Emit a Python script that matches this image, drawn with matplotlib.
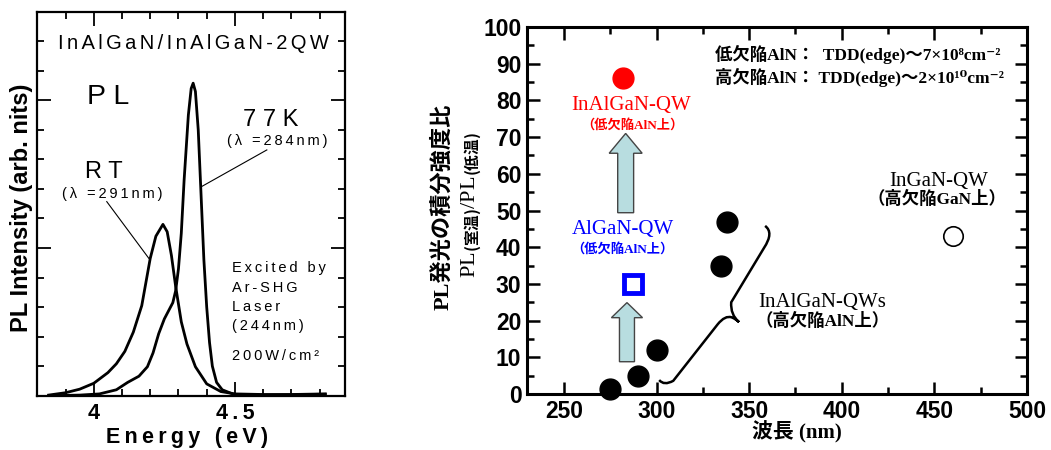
import matplotlib
matplotlib.use('Agg')
import matplotlib.pyplot as plt
from matplotlib.path import Path
from matplotlib.patches import PathPatch, FancyArrow
from matplotlib.ticker import MultipleLocator, FixedLocator, NullFormatter

plt.rcParams['mathtext.fontset'] = 'custom'
plt.rcParams['mathtext.rm'] = 'Noto Sans CJK JP'
plt.rcParams['mathtext.it'] = 'Noto Sans CJK JP'
plt.rcParams['mathtext.bf'] = 'Noto Sans CJK JP:bold'

SANS = ['Liberation Sans', 'DejaVu Sans']
SERIF_JP = ['Liberation Serif', 'Noto Sans CJK JP', 'DejaVu Serif']

# PL spectra (arb. units)
energy_rt = [3.84, 3.90, 3.95, 4.00, 4.05, 4.08, 4.11, 4.14, 4.17, 4.20, 4.22,
             4.245, 4.26, 4.275, 4.29, 4.31, 4.33, 4.36, 4.40, 4.45, 4.50,
             4.60, 4.70, 4.82]
pl_rt = [0.02, 0.10, 0.22, 0.42, 0.78, 1.08, 1.50, 2.15, 3.05, 4.65, 5.40,
         5.80, 5.55, 4.75, 3.70, 2.50, 1.75, 0.98, 0.40, 0.14, 0.06,
         0.04, 0.04, 0.06]

energy_77k = [3.85, 3.95, 4.02, 4.08, 4.12, 4.16, 4.19, 4.21, 4.23, 4.25,
              4.28, 4.29, 4.30, 4.31, 4.32, 4.335, 4.345, 4.352, 4.36, 4.37,
              4.38, 4.39, 4.40, 4.41, 4.42, 4.435, 4.455, 4.50, 4.60, 4.70,
              4.82]
pl_77k = [0.0, 0.02, 0.06, 0.20, 0.45, 0.66, 0.98, 1.45, 2.10, 2.60,
          3.15, 3.55, 4.30, 5.50, 7.30, 9.50, 10.40, 10.58, 10.30, 9.00,
          6.80, 4.60, 3.00, 1.80, 1.00, 0.45, 0.20, 0.03, 0.02, 0.03,
          0.05]

# integrated PL ratio vs emission wavelength
wl_inalgan_high = [275, 290, 300, 335, 338]
ratio_inalgan_high = [1.5, 5, 12, 35, 47]
wl_inalgan_low = [282]
ratio_inalgan_low = [86]
wl_algan_low = [287]
ratio_algan_low = [30]
wl_ingan = [460]
ratio_ingan = [43]


def spaced(s, gap='\u2009'):
    return gap.join(s)


fig = plt.figure(figsize=(10.51, 4.5), dpi=100)

# ---------------- left: PL spectra ----------------
ax1 = fig.add_axes([0.0355, 0.1207, 0.2928, 0.8533])
ax1.plot(energy_rt, pl_rt, color='black', lw=2.0)
ax1.plot(energy_77k, pl_77k, color='black', lw=2.0)
ax1.set_xlim(3.8, 4.89)
ax1.set_ylim(0, 13)

ax1.xaxis.set_major_locator(FixedLocator([4.0, 4.5]))
ax1.xaxis.set_minor_locator(MultipleLocator(0.1))
ax1.yaxis.set_major_locator(MultipleLocator(5))
ax1.yaxis.set_minor_locator(MultipleLocator(1))
ax1.set_xticklabels([spaced('4'), spaced('4.5')], fontfamily=SANS,
                    fontweight='bold', fontsize=15.5)
ax1.yaxis.set_major_formatter(NullFormatter())
ax1.tick_params(which='both', direction='in', top=True, right=True, width=1.3)
ax1.tick_params(which='major', length=10, pad=5)
ax1.tick_params(which='minor', length=5)
for sp in ax1.spines.values():
    sp.set_linewidth(1.6)

t1 = ax1.transAxes
ax1.text(0.506, 0.916, spaced('InAlGaN/InAlGaN-2QW', '\u2006'), transform=t1,
         ha='center', va='center', fontsize=14.5, fontfamily=SANS)
ax1.text(0.230, 0.778, 'P L', transform=t1, ha='center', va='center',
         fontsize=20.5, fontfamily=SANS)
ax1.text(0.759, 0.718, '7 7 K', transform=t1, ha='center', va='center',
         fontsize=17, fontfamily=SANS)
ax1.text(0.779, 0.663, spaced('(λ =284nm)'), transform=t1, ha='center',
         va='center', fontsize=10.5, fontfamily=SANS)
ax1.text(0.217, 0.583, 'R T', transform=t1, ha='center', va='center',
         fontsize=17, fontfamily=SANS)
ax1.text(0.244, 0.525, spaced('(λ =291nm)'), transform=t1, ha='center',
         va='center', fontsize=10.5, fontfamily=SANS)
for yy, line in zip([0.3325, 0.280, 0.231, 0.1815, 0.1034],
                    ['Excited by', 'Ar-SHG', 'Laser', '(244nm)', '200W/cm²']):
    ax1.text(0.633, yy, spaced(line), transform=t1, ha='left', va='center',
             fontsize=10.5, fontfamily=SANS)

# leader lines to the curves
ax1.plot([4.046, 4.195], [6.57, 4.65], color='black', lw=0.8)
ax1.plot([4.613, 4.382], [8.32, 7.08], color='black', lw=0.8)

fig.text(22 / 1051, 1 - 208 / 450, 'PL Intensity (arb. nits)', rotation=90,
         ha='center', va='center', fontsize=17, fontweight='bold',
         fontfamily=SANS)
fig.text(187 / 1051, 1 - 437 / 450, spaced('Energy (eV)'), ha='center',
         va='center', fontsize=15.5, fontweight='bold', fontfamily=SANS)

# ---------------- right: intensity ratio ----------------
ax2 = fig.add_axes([0.5014, 0.1244, 0.4757, 0.8156])
ax2.set_xlim(230, 500)
ax2.set_ylim(0, 100)
ax2.xaxis.set_major_locator(MultipleLocator(50))
ax2.xaxis.set_minor_locator(MultipleLocator(25))
ax2.yaxis.set_major_locator(MultipleLocator(10))
ax2.yaxis.set_minor_locator(MultipleLocator(5))
ax2.tick_params(which='both', direction='in', top=True, right=True, width=1.8)
ax2.tick_params(which='major', length=9, pad=4)
ax2.tick_params(which='minor', length=5)
for lab in ax2.get_xticklabels() + ax2.get_yticklabels():
    lab.set_fontfamily(SANS)
    lab.set_fontweight('bold')
    lab.set_fontsize(16.5)
for sp in ax2.spines.values():
    sp.set_linewidth(2.2)

# arrows (drawn first so markers sit on top)
arrow_kw = dict(facecolor='#b8dde0', edgecolor='#444444', lw=1.0,
                length_includes_head=True, zorder=2)
ax2.add_patch(FancyArrow(284, 8.8, 0, 16.1, width=8.1, head_width=16.8,
                         head_length=4.1, **arrow_kw))
ax2.add_patch(FancyArrow(283.3, 49.4, 0, 21.6, width=8.6, head_width=17.8,
                         head_length=5.4, **arrow_kw))

ax2.plot(wl_inalgan_high, ratio_inalgan_high, 'o', color='black', ms=15,
         zorder=4, clip_on=False)
ax2.plot(wl_inalgan_low, ratio_inalgan_low, 'o', color='#ff0000', ms=15,
         zorder=4)
ax2.plot(wl_algan_low, ratio_algan_low, 's', mfc='white', mec='#0000ff',
         mew=3.5, ms=13, zorder=4)
ax2.plot(wl_ingan, ratio_ingan, 'o', mfc='white', mec='black', mew=1.2,
         ms=14, zorder=4)

# curly brace grouping the InAlGaN-QWs on high-defect AlN
brace = Path([(301.4, 3.8), (304.0, 2.2), (309.0, 3.6), (333.0, 19.0),
              (337.0, 21.5), (340.5, 20.9), (343.0, 20.4), (344.5, 19.6),
              (339.8, 21.6), (340.3, 25.0), (358.0, 39.8), (363.5, 44.0),
              (358.6, 45.8)],
             [Path.MOVETO, Path.CURVE3, Path.CURVE3, Path.LINETO,
              Path.CURVE3, Path.CURVE3, Path.CURVE3, Path.CURVE3,
              Path.CURVE3, Path.CURVE3, Path.LINETO, Path.CURVE3,
              Path.CURVE3])
ax2.add_patch(PathPatch(brace, facecolor='none', edgecolor='black', lw=1.8,
                        zorder=3))

ax2.text(286.5, 78.7, 'InAlGaN-QW', color='#ff0000', ha='center',
         va='center', fontsize=15, fontfamily='Liberation Serif')
ax2.text(286.9, 73.3, '（低欠陥AlN上）', color='#ff0000', ha='center',
         va='center', fontsize=9.5, fontweight='bold', fontfamily=SERIF_JP)
ax2.text(281.9, 44.7, 'AlGaN-QW', color='#0000ff', ha='center',
         va='center', fontsize=15, fontfamily='Liberation Serif')
ax2.text(281.5, 39.4, '（低欠陥AlN上）', color='#0000ff', ha='center',
         va='center', fontsize=9.5, fontweight='bold', fontfamily=SERIF_JP)
ax2.text(452.2, 57.8, 'InGaN-QW', ha='center', va='center', fontsize=15,
         fontfamily='Liberation Serif')
ax2.text(451.3, 52.9, '（高欠陥GaN上）', ha='center', va='center',
         fontsize=12.5, fontweight='bold', fontfamily=SERIF_JP)
ax2.text(389.5, 24.8, 'InAlGaN-QWs', ha='center', va='center', fontsize=15,
         fontfamily='Liberation Serif')
ax2.text(389.6, 19.7, '（高欠陥AlN上）', ha='center', va='center',
         fontsize=12.5, fontweight='bold', fontfamily=SERIF_JP)

t2 = ax2.transAxes
ax2.text(0.376, 0.926, '低欠陥AlN：  TDD(edge)〜7×10⁸cm⁻²', transform=t2,
         ha='left', va='center', fontsize=12.5, fontweight='bold',
         fontfamily=SERIF_JP)
ax2.text(0.376, 0.863, '高欠陥AlN： TDD(edge)〜2×10¹⁰cm⁻²', transform=t2,
         ha='left', va='center', fontsize=12.5, fontweight='bold',
         fontfamily=SERIF_JP)

fig.text(797 / 1051, 1 - 432 / 450, '波長 (nm)', ha='center', va='center',
         fontsize=15, fontweight='bold', fontfamily=SERIF_JP)
fig.text(443 / 1051, 1 - 207 / 450, 'PL発光の積分強度比', rotation=90,
         ha='center', va='center', fontsize=16, fontweight='bold',
         fontfamily=SERIF_JP)
fig.text(472 / 1051, 1 - 205 / 450,
         r'PL$_{\mathbf{(室温)}}$/PL$_{\mathbf{(低温)}}$', rotation=90,
         ha='center', va='center', fontsize=16, fontfamily='Liberation Serif')

fig.savefig('out.png', dpi=100)
